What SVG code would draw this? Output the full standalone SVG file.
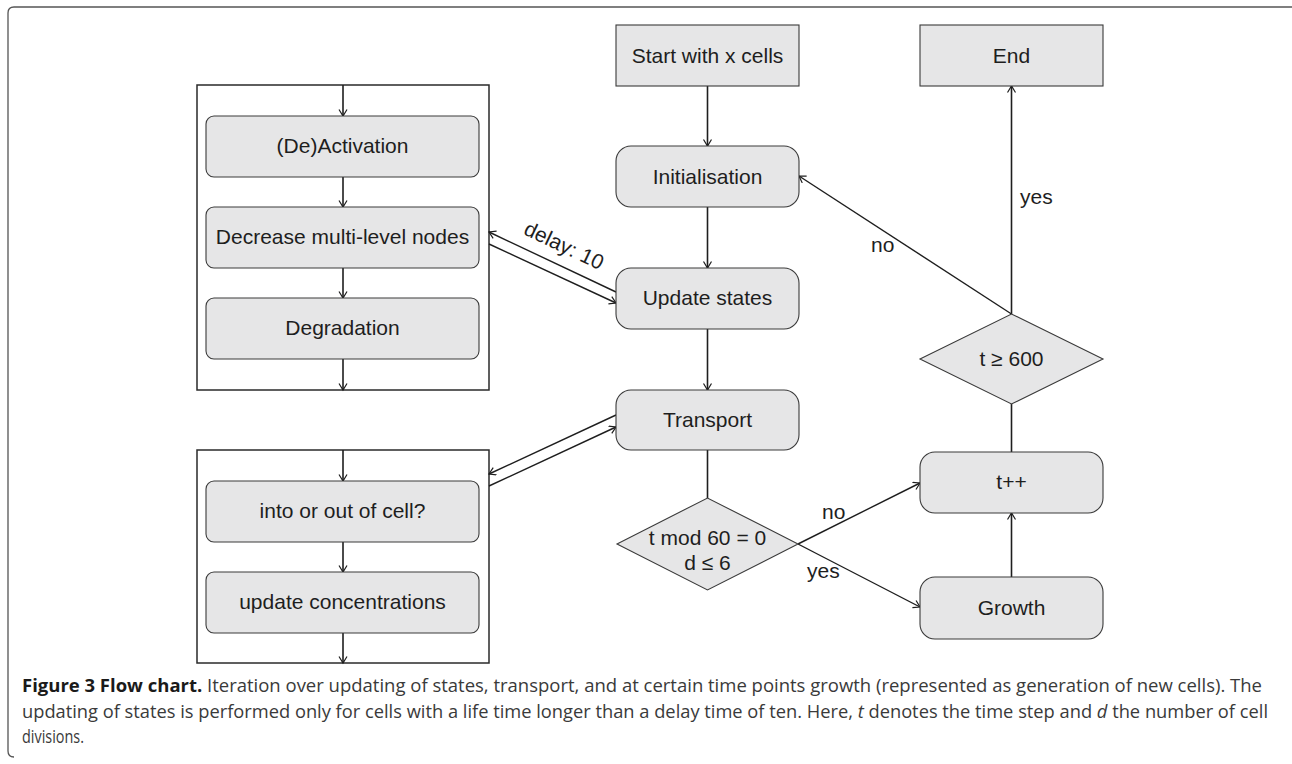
<svg xmlns="http://www.w3.org/2000/svg" width="1292" height="764" viewBox="0 0 1292 764">
<style>
  .box { fill: #e6e6e7; stroke: #3a3a3a; stroke-width: 1.1; }
  .frame { fill: #ffffff; stroke: #2a2a2a; stroke-width: 1.5; }
  .lbl { font-family: "Liberation Sans", Arial, sans-serif; font-size: 21px; fill: #1e1e1e; text-anchor: middle; }
  .elbl { font-family: "Liberation Sans", Arial, sans-serif; font-size: 21px; fill: #1e1e1e; }
  .con { fill: none; stroke: #1e1e1e; stroke-width: 1.6; }
  .cond { fill: none; stroke: #1e1e1e; stroke-width: 1.4; }
  .cap { font-family: "Open Sans", "Liberation Sans", sans-serif; font-size: 18px; fill: #3a3a3a; }
</style>
<defs>
  <marker id="arr" markerUnits="userSpaceOnUse" markerWidth="10" markerHeight="10" refX="7" refY="4.5" orient="auto">
    <path d="M0.5,0.5 L7,4.5 L0.5,8.5" fill="none" stroke="#1e1e1e" stroke-width="1.2"/>
  </marker>
</defs>
<rect width="1292" height="764" fill="#ffffff"/>
<path d="M1292,7 H14 Q8,7 8,13 V751 Q8,757 14,757" fill="none" stroke="#555" stroke-width="1.3"/>

<g id="frame-update">
  <rect class="frame" x="197" y="85" width="292" height="305"/>
</g>
<g id="frame-transport">
  <rect class="frame" x="197" y="450" width="292" height="213"/>
</g>

<g id="connectors">
  <line class="con" x1="343" y1="85" x2="343" y2="116" marker-end="url(#arr)"/>
  <line class="con" x1="343" y1="177" x2="343" y2="207" marker-end="url(#arr)"/>
  <line class="con" x1="343" y1="268" x2="343" y2="298" marker-end="url(#arr)"/>
  <line class="con" x1="343" y1="359" x2="343" y2="390" marker-end="url(#arr)"/>
  <line class="con" x1="343" y1="450" x2="343" y2="481" marker-end="url(#arr)"/>
  <line class="con" x1="343" y1="542" x2="343" y2="572" marker-end="url(#arr)"/>
  <line class="con" x1="343" y1="633" x2="343" y2="663" marker-end="url(#arr)"/>
  <line class="con" x1="707.5" y1="86" x2="707.5" y2="146" marker-end="url(#arr)"/>
  <line class="con" x1="707.5" y1="207" x2="707.5" y2="268" marker-end="url(#arr)"/>
  <line class="con" x1="707.5" y1="329" x2="707.5" y2="390" marker-end="url(#arr)"/>
  <line class="con" x1="707.5" y1="450" x2="707.5" y2="498"/>
  <line class="cond" x1="616" y1="292" x2="489" y2="232" marker-end="url(#arr)"/>
  <line class="cond" x1="489" y1="244" x2="616" y2="303" marker-end="url(#arr)"/>
  <line class="cond" x1="616" y1="415" x2="489" y2="474" marker-end="url(#arr)"/>
  <line class="cond" x1="489" y1="486" x2="616" y2="427" marker-end="url(#arr)"/>
  <line class="cond" x1="798" y1="544" x2="920" y2="483" marker-end="url(#arr)"/>
  <line class="cond" x1="798" y1="544" x2="920" y2="607" marker-end="url(#arr)"/>
  <line class="con" x1="1011.5" y1="577" x2="1011.5" y2="513" marker-end="url(#arr)"/>
  <line class="con" x1="1011.5" y1="452" x2="1011.5" y2="404"/>
  <line class="con" x1="1011.5" y1="314" x2="1011.5" y2="86" marker-end="url(#arr)"/>
  <line class="cond" x1="1011.5" y1="314" x2="799" y2="176" marker-end="url(#arr)"/>
  <text class="elbl" transform="translate(561,252) rotate(25.3)" text-anchor="middle">delay: 10</text>
  <text class="elbl" x="871" y="252">no</text>
  <text class="elbl" x="1020" y="204">yes</text>
  <text class="elbl" x="822" y="519">no</text>
  <text class="elbl" x="807" y="578">yes</text>
</g>

<g id="n-activation">
  <rect class="box" x="206" y="116" width="273" height="61" rx="8"/>
  <text class="lbl" x="342.5" y="153">(De)Activation</text>
</g>
<g id="n-decrease">
  <rect class="box" x="206" y="207" width="273" height="61" rx="8"/>
  <text class="lbl" x="342.5" y="244">Decrease multi-level nodes</text>
</g>
<g id="n-degradation">
  <rect class="box" x="206" y="298" width="273" height="61" rx="8"/>
  <text class="lbl" x="342.5" y="335">Degradation</text>
</g>
<g id="n-into">
  <rect class="box" x="206" y="481" width="273" height="61" rx="8"/>
  <text class="lbl" x="342.5" y="518">into or out of cell?</text>
</g>
<g id="n-concentrations">
  <rect class="box" x="206" y="572" width="273" height="61" rx="8"/>
  <text class="lbl" x="342.5" y="609">update concentrations</text>
</g>

<g id="n-start">
  <rect class="box" x="616" y="25" width="183" height="61"/>
  <text class="lbl" x="707.5" y="63">Start with x cells</text>
</g>
<g id="n-init">
  <rect class="box" x="616" y="146" width="183" height="61" rx="15"/>
  <text class="lbl" x="707.5" y="184">Initialisation</text>
</g>
<g id="n-update">
  <rect class="box" x="616" y="268" width="183" height="61" rx="15"/>
  <text class="lbl" x="707.5" y="305">Update states</text>
</g>
<g id="n-transport">
  <rect class="box" x="616" y="390" width="183" height="60" rx="15"/>
  <text class="lbl" x="707.5" y="427">Transport</text>
</g>
<g id="n-cond1">
  <polygon class="box" points="617,544 707.5,498 798,544 707.5,590"/>
  <text class="lbl" x="707.5" y="545">t mod 60 = 0</text>
  <text class="lbl" x="707.5" y="570">d ≤ 6</text>
</g>

<g id="n-end">
  <rect class="box" x="920" y="25" width="183" height="61"/>
  <text class="lbl" x="1011.5" y="63">End</text>
</g>
<g id="n-cond2">
  <polygon class="box" points="920,359 1011.5,314 1103,359 1011.5,404"/>
  <text class="lbl" x="1011.5" y="366">t ≥ 600</text>
</g>
<g id="n-tpp">
  <rect class="box" x="920" y="452" width="183" height="61" rx="15"/>
  <text class="lbl" x="1011.5" y="489">t++</text>
</g>
<g id="n-growth">
  <rect class="box" x="920" y="577" width="183" height="62" rx="15"/>
  <text class="lbl" x="1011.5" y="615">Growth</text>
</g>

<g id="caption">
  <text class="cap" x="22" y="692" textLength="1240" lengthAdjust="spacingAndGlyphs"><tspan font-weight="bold" fill="#1a1a1a">Figure 3 Flow chart.</tspan> Iteration over updating of states, transport, and at certain time points growth (represented as generation of new cells). The</text>
  <text class="cap" x="22" y="718" textLength="1246" lengthAdjust="spacingAndGlyphs">updating of states is performed only for cells with a life time longer than a delay time of ten. Here, <tspan font-style="italic">t</tspan> denotes the time step and <tspan font-style="italic">d</tspan> the number of cell</text>
  <text class="cap" x="22" y="743" textLength="62" lengthAdjust="spacingAndGlyphs">divisions.</text>
</g>
</svg>
